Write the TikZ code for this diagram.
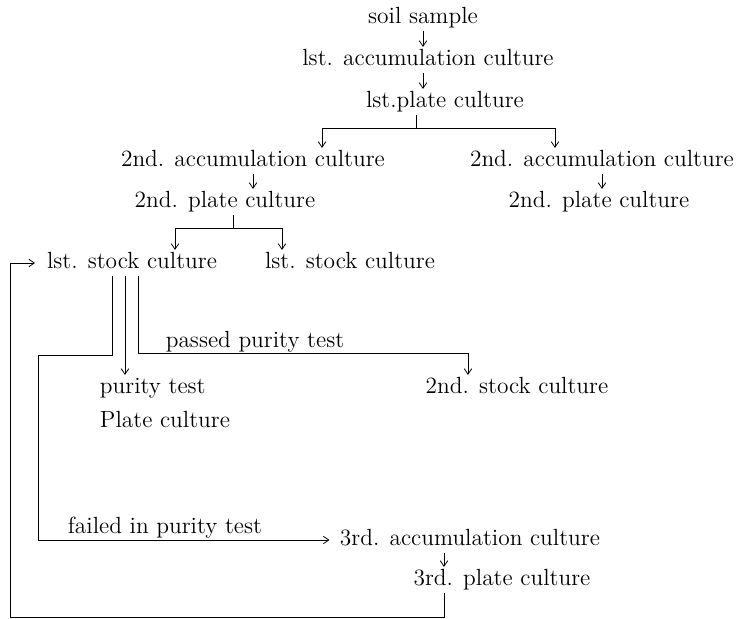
\documentclass[tikz,border=0pt]{standalone}
\usepackage{tikz}
\usetikzlibrary{arrows.meta}
\tikzset{
  wire/.style={black,line width=0.45pt},
  flow/.style={wire,-{Straight Barb[length=1.1mm,width=1.5mm]}},
  culture/.style={font=\fontsize{13.3}{15}\selectfont,inner sep=1.5pt,
                  text height=9pt,text depth=2.5pt},
  lab/.style={culture},
}

\begin{document}
\begin{tikzpicture}[x=0.2mm,y=-0.2mm]
  \path[use as bounding box] (0,0) rectangle (738,619);

  % first isolation
  \node[culture] (soil) at (423,18) {soil sample};
  \node[culture] (acc1) at (428,60) {lst. accumulation culture};
  \node[culture] (plate1) at (445,102) {lst.plate culture};
  \node[culture] (accL) at (253,161) {2nd. accumulation culture};
  \node[culture] (accR) at (602,161) {2nd. accumulation culture};
  \node[culture] (plateL) at (225,202) {2nd. plate culture};
  \node[culture] (plateR) at (599,202) {2nd. plate culture};
  \node[culture] (stockL) at (132,263) {lst. stock culture};
  \node[culture] (stockR) at (350,263) {lst. stock culture};

  \draw[flow] (soil.south) -- (soil.south |- acc1.north);
  \draw[flow] (acc1.south -| soil.south) -- (soil.south |- plate1.north);

  \coordinate (fork1) at (416,128);
  \coordinate (br1l) at (322,128);
  \coordinate (br1r) at (555,128);
  \draw[wire] (plate1.south -| fork1) -- (fork1);
  \draw[wire] (br1l) -- (br1r);
  \draw[flow] (br1l) -- (br1l |- accL.north);
  \draw[flow] (br1r) -- (br1r |- accR.north);
  \draw[flow] (accL.south) -- (accL.south |- plateL.north);
  \draw[flow] (accR.south) -- (accR.south |- plateR.north);

  \coordinate (fork2) at (233,228);
  \coordinate (br2l) at (175,228);
  \coordinate (br2r) at (282,228);
  \draw[wire] (plateL.south -| fork2) -- (fork2);
  \draw[wire] (br2l) -- (br2r);
  \draw[flow] (br2l) -- (br2l |- stockL.north);
  \draw[flow] (br2r) -- (br2r |- stockR.north);

  % purity test
  \node[culture,anchor=west] (purity) at (97,388) {purity test};
  \node[culture,anchor=west] (platec) at (97,422) {Plate culture};
  \node[culture] (stock2) at (517,388) {2nd. stock culture};
  \node[culture] (acc3) at (470,540) {3rd. accumulation culture};
  \node[culture] (plate3) at (502,580) {3rd. plate culture};

  \node[lab] (passed) at (255,342) {passed purity test};
  \node[lab] (failed) at (165,528) {failed in purity test};

  \coordinate (failtop) at (112,355);
  \coordinate (failbend) at (38,355);
  \coordinate (midline) at (125,355);
  \coordinate (passtop) at (138,353);
  \coordinate (passend) at (468,353);
  \draw[flow,shorten >=1.5mm] (stockL.south -| failtop) -- (failtop) -- (failbend) |- (acc3.west);
  \draw[flow] (stockL.south -| midline) -- (midline |- purity.north);
  \draw[flow] (stockL.south -| passtop) -- (passtop) -- (passend) -- (passend |- stock2.north);

  % back to stock culture
  \coordinate (backx) at (444,617);
  \coordinate (loopcorner) at (10,617);
  \draw[flow] (acc3.south -| backx) -- (backx |- plate3.north);
  \draw[flow,shorten >=1.8mm] (plate3.south -| backx) -- (backx) -- (loopcorner) |- (stockL.west);
\end{tikzpicture}
\end{document}
